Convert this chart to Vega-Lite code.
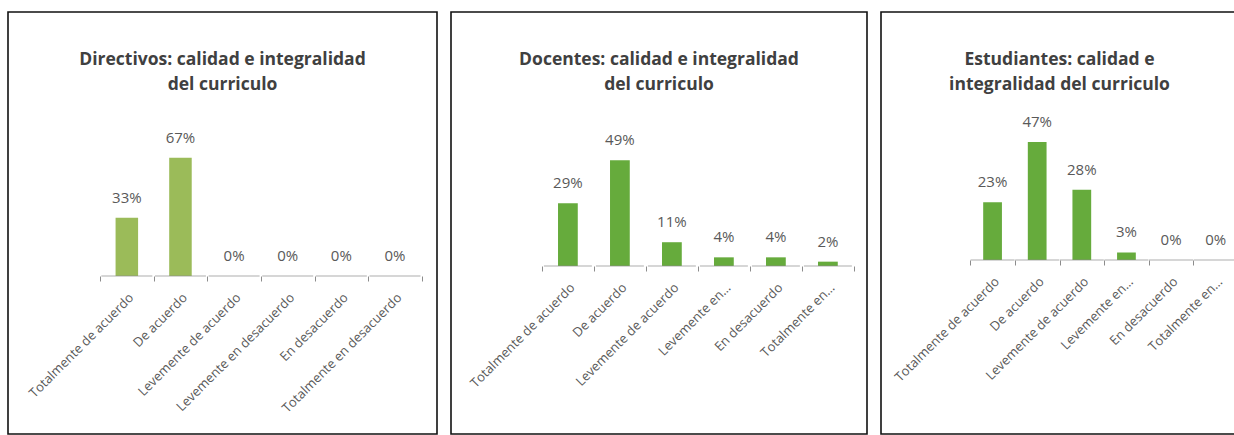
{
  "$schema": "https://vega.github.io/schema/vega-lite/v6.json",
  "background": "white",
  "padding": {"left": 7, "top": 11, "right": 0, "bottom": 0},
  "spacing": 12,
  "config": {
    "font": "Open Sans",
    "view": {"stroke": "#111111", "strokeWidth": 1.6},
    "axisX": {
      "domain": false,
      "grid": false,
      "ticks": true,
      "tickBand": "extent",
      "tickSize": 5,
      "tickColor": "#8c8c8c",
      "labelAngle": -45,
      "labelFontSize": 13,
      "labelColor": "#595959",
      "labelPadding": 10,
      "labelLimit": 0,
      "title": null
    },
    "title": {"fontSize": 17.5, "fontWeight": "bold", "color": "#404040", "lineHeight": 25, "frame": "group", "anchor": "middle"}
  },
  "datasets": {
    "directivos": [
      {"categoria": "Totalmente de acuerdo", "valor": 0.33},
      {"categoria": "De acuerdo", "valor": 0.67},
      {"categoria": "Levemente de acuerdo", "valor": 0},
      {"categoria": "Levemente en desacuerdo", "valor": 0},
      {"categoria": "En desacuerdo", "valor": 0},
      {"categoria": "Totalmente en desacuerdo", "valor": 0}
    ],
    "docentes": [
      {"categoria": "Totalmente de acuerdo", "valor": 0.29},
      {"categoria": "De acuerdo", "valor": 0.49},
      {"categoria": "Levemente de acuerdo", "valor": 0.11},
      {"categoria": "Levemente en…", "valor": 0.04},
      {"categoria": "En desacuerdo", "valor": 0.04},
      {"categoria": "Totalmente en…", "valor": 0.02}
    ],
    "estudiantes": [
      {"categoria": "Totalmente de acuerdo", "valor": 0.23},
      {"categoria": "De acuerdo", "valor": 0.47},
      {"categoria": "Levemente de acuerdo", "valor": 0.28},
      {"categoria": "Levemente en…", "valor": 0.03},
      {"categoria": "En desacuerdo", "valor": 0},
      {"categoria": "Totalmente en…", "valor": 0}
    ]
  },
  "hconcat": [
    {
      "width": 429,
      "height": 422,
      "data": {"name": "directivos"},
      "title": {"text": ["Directivos: calidad  e integralidad", "del curriculo"], "offset": -81},
      "encoding": {
        "x": {
          "field": "categoria", "type": "nominal", "sort": null,
          "scale": {"paddingInner": 0, "paddingOuter": 1.262, "align": 0.858},
          "axis": {"offset": -158}
        }
      },
      "layer": [
        {
          "mark": {"type": "bar", "width": {"band": 0.42}, "color": "#9BBB59"},
          "encoding": {"y": {"field": "valor", "type": "quantitative", "scale": {"domain": [-0.895, 1.496], "nice": false, "zero": false}, "axis": null}}
        },
        {
          "mark": {"type": "text", "baseline": "bottom", "dy": -12, "fontSize": 15, "color": "#595959"},
          "encoding": {
            "y": {"field": "valor", "type": "quantitative"},
            "text": {"field": "valor", "type": "quantitative", "format": ".0%"}
          }
        },
        {
          "mark": {"type": "tick", "orient": "horizontal", "size": 51, "thickness": 1, "color": "#8c8c8c"},
          "encoding": {"y": {"datum": 0, "type": "quantitative"}}
        }
      ]
    },
    {
      "width": 416,
      "height": 422,
      "data": {"name": "docentes"},
      "title": {"text": ["Docentes: calidad e integralidad", "del curriculo"], "offset": -81},
      "encoding": {
        "x": {
          "field": "categoria", "type": "nominal", "sort": null,
          "scale": {"paddingInner": 0, "paddingOuter": 1.37, "align": 0.874},
          "axis": {"offset": -168}
        }
      },
      "layer": [
        {
          "mark": {"type": "bar", "width": {"band": 0.38}, "color": "#66AB3C"},
          "encoding": {"y": {"field": "valor", "type": "quantitative", "scale": {"domain": [-0.778, 1.176], "nice": false, "zero": false}, "axis": null}}
        },
        {
          "mark": {"type": "text", "baseline": "bottom", "dy": -12, "fontSize": 15, "color": "#595959"},
          "encoding": {
            "y": {"field": "valor", "type": "quantitative"},
            "text": {"field": "valor", "type": "quantitative", "format": ".0%"}
          }
        },
        {
          "mark": {"type": "tick", "orient": "horizontal", "size": 48, "thickness": 1, "color": "#8c8c8c"},
          "encoding": {"y": {"datum": 0, "type": "quantitative"}}
        }
      ]
    },
    {
      "width": 357,
      "height": 422,
      "data": {"name": "estudiantes"},
      "title": {"text": ["Estudiantes: calidad e", "integralidad del curriculo"], "offset": -81},
      "encoding": {
        "x": {
          "field": "categoria", "type": "nominal", "sort": null,
          "scale": {"paddingInner": 0, "paddingOuter": 1.088, "align": 1},
          "axis": {"offset": -174}
        }
      },
      "layer": [
        {
          "mark": {"type": "bar", "width": {"band": 0.42}, "color": "#66AB3C"},
          "encoding": {"y": {"field": "valor", "type": "quantitative", "scale": {"domain": [-0.693, 0.988], "nice": false, "zero": false}, "axis": null}}
        },
        {
          "mark": {"type": "text", "baseline": "bottom", "dy": -12, "fontSize": 15, "color": "#595959"},
          "encoding": {
            "y": {"field": "valor", "type": "quantitative"},
            "text": {"field": "valor", "type": "quantitative", "format": ".0%"}
          }
        },
        {
          "mark": {"type": "tick", "orient": "horizontal", "size": 44, "thickness": 1, "color": "#8c8c8c"},
          "encoding": {"y": {"datum": 0, "type": "quantitative"}}
        }
      ]
    }
  ]
}
